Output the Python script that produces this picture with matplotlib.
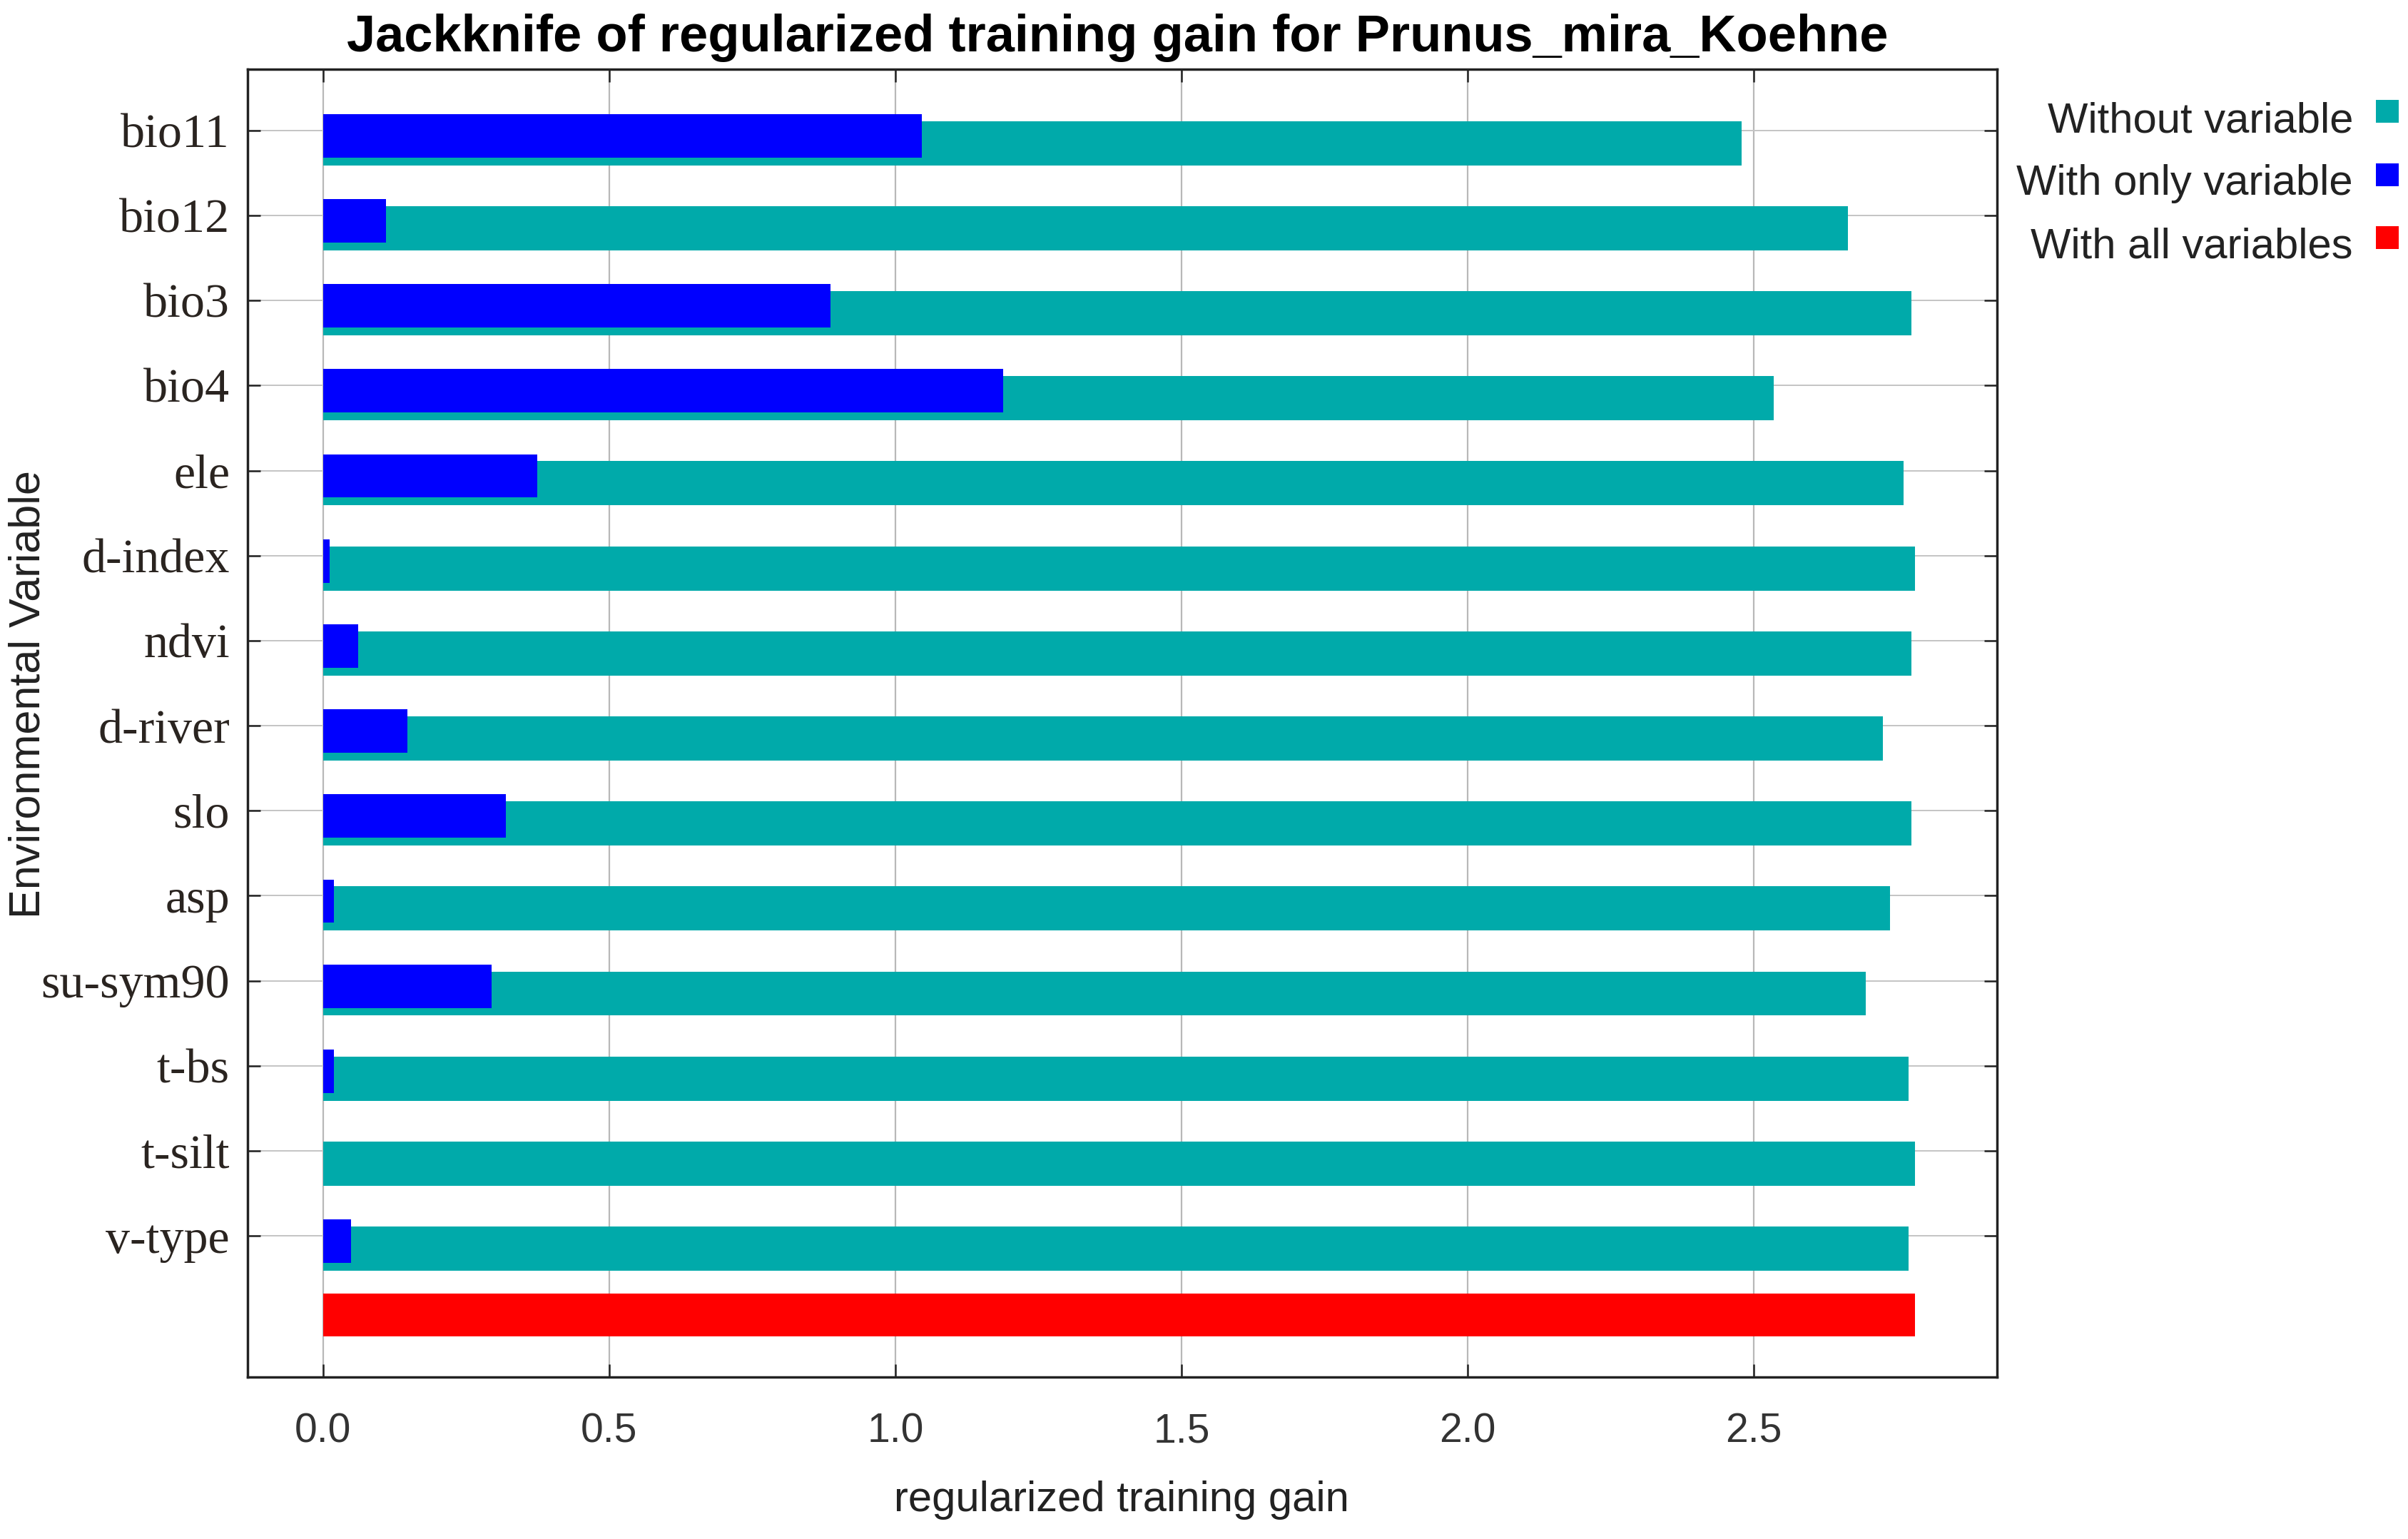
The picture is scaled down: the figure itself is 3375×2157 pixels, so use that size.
import matplotlib
matplotlib.use("Agg")
import matplotlib.pyplot as plt
from matplotlib.patches import Rectangle

# ---- data ----
variables = ['bio11', 'bio12', 'bio3', 'bio4', 'ele', 'd-index', 'ndvi',
             'd-river', 'slo', 'asp', 'su-sym90', 't-bs', 't-silt', 'v-type']
without_variable = [2.479, 2.665, 2.776, 2.535, 2.762, 2.782, 2.776,
                    2.726, 2.776, 2.738, 2.696, 2.770, 2.782, 2.770]
with_only_variable = [1.046, 0.110, 0.887, 1.188, 0.374, 0.011, 0.061,
                      0.147, 0.319, 0.019, 0.294, 0.019, 0.0, 0.049]
with_all_variables = 2.782
xticks = [0.0, 0.5, 1.0, 1.5, 2.0, 2.5]
legend_labels = ['Without variable', 'With only variable', 'With all variables']

TEAL = '#00AAAA'
BLUE = '#0000FF'
RED = '#FF0000'

W, H = 3375, 2157
fig = plt.figure(figsize=(W / 100, H / 100), dpi=100)
fig.patch.set_facecolor('white')

ax = fig.add_axes([347 / W, 1 - 1930 / H, (2799 - 347) / W, (1930 - 97) / H])

n = len(variables)
pos = list(range(n))

# bars
ax.barh([p + 0.15 for p in pos], without_variable, height=0.52,
        color=TEAL, zorder=3, linewidth=0)
ax.barh([p + 0.063 for p in pos], with_only_variable, height=0.51,
        color=BLUE, zorder=4, linewidth=0)
ax.barh([n - 0.07], [with_all_variables], height=0.50,
        color=RED, zorder=3, linewidth=0)

ax.set_xlim(-0.132, 2.925)
ax.set_ylim(14.66, -0.72)

ax.set_xticks(xticks)
ax.set_xticklabels([f'{v:.1f}' for v in xticks])
ax.set_yticks(pos)
ax.set_yticklabels(variables)

ax.grid(True, axis='x', color='#B8B8B8', linewidth=1.6, zorder=1)
ax.grid(True, axis='y', color='#C4C4C4', linewidth=1.4, zorder=1)
ax.set_axisbelow(True)

for s in ax.spines.values():
    s.set_linewidth(2.5)
    s.set_color('#222222')
    s.set_zorder(6)

ax.tick_params(axis='x', direction='in', length=13, width=1.8, color='#222222',
               top=True, bottom=True, pad=36, labelsize=41, labelcolor='#333333')
ax.tick_params(axis='y', direction='in', length=13, width=1.8, color='#222222',
               left=True, right=True, pad=18, labelsize=49, labelcolor='#2a2420')
for lab in ax.get_xticklabels():
    lab.set_fontfamily(['Liberation Sans', 'DejaVu Sans'])
for lab in ax.get_yticklabels():
    lab.set_fontfamily(['Liberation Serif', 'DejaVu Serif'])

# title and axis titles
fig.text(1566 / W, 1 - 72 / H,
         'Jackknife of regularized training gain for Prunus_mira_Koehne',
         ha='center', va='baseline', fontsize=52, fontweight='bold',
         family=['Liberation Sans', 'DejaVu Sans'], color='black')
fig.text(1572 / W, 1 - 2118 / H, 'regularized training gain',
         ha='center', va='baseline', fontsize=43,
         family=['Liberation Sans', 'DejaVu Sans'], color='#222222')
fig.text(40 / W, 1 - 973 / H, 'Environmental Variable', rotation=90,
         ha='center', va='center', fontsize=44,
         family=['Liberation Sans', 'DejaVu Sans'], color='#222222')

# legend (right side, outside)
leg_colors = [TEAL, BLUE, RED]
leg_base = [185, 273, 362]
leg_sq = [156, 245, 333]
for lbl, c, yb, ys in zip(legend_labels, leg_colors, leg_base, leg_sq):
    fig.text(3298 / W, 1 - yb / H, lbl, ha='right', va='baseline', fontsize=43,
             family=['Liberation Sans', 'DejaVu Sans'], color='#222222')
    fig.patches.append(Rectangle(((3346 - 16) / W, 1 - (ys + 16) / H), 32 / W, 32 / H,
                                 transform=fig.transFigure, facecolor=c,
                                 edgecolor='none', figure=fig))

fig.savefig('out.png', dpi=100, facecolor='white')
